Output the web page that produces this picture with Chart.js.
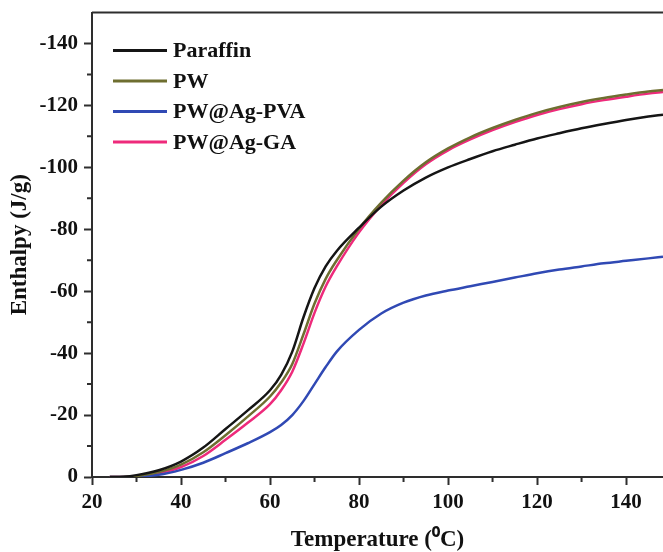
<!DOCTYPE html>
<html>
<head>
<meta charset="utf-8">
<script src="https://cdn.jsdelivr.net/npm/chart.js@4.4.1/dist/chart.umd.min.js"></script>
<style>
  html, body { margin: 0; padding: 0; background: #fff; }
  #wrap { width: 663px; height: 552px; position: relative; }
</style>
</head>
<body>
<div id="wrap"><canvas id="chart-enthalpy"></canvas></div>
<script>
const temperature = [24, 27, 30, 35, 40, 45, 50, 55, 60, 62.5, 65, 67.5, 70, 72.5, 75, 80, 85, 90, 95, 100, 105, 110, 115, 120, 125, 130, 135, 140, 145, 148.3];

const paraffin = [0, -0.1, -0.6, -2.2, -5, -9.5, -15.5, -21.5, -28, -33, -40.5, -51.5, -61, -68, -73, -80.5, -87.3, -92.5, -96.7, -100, -102.7, -105.2, -107.3, -109.3, -111, -112.6, -114, -115.3, -116.4, -117];
const pw = [0, 0, -0.3, -1.6, -4, -8, -13.5, -19.5, -26, -30.5, -36.5, -46, -56, -64, -70, -80.2, -88.6, -95.7, -101.6, -106.1, -109.7, -112.7, -115.3, -117.6, -119.5, -121.1, -122.4, -123.5, -124.5, -125];
const pwAgPva = [0, 0, -0.1, -0.7, -2.3, -4.6, -7.7, -10.9, -14.5, -16.8, -20, -24.5, -30, -35.5, -40.5, -47.5, -52.8, -56.3, -58.6, -60.2, -61.6, -63, -64.4, -65.8, -67, -68, -69, -69.8, -70.6, -71.1];
const pwAgGa = [0, 0, -0.2, -1.2, -3.2, -6.8, -12, -17.5, -23.5, -28, -34, -43, -53, -61.5, -68, -79, -87.8, -95, -101, -105.5, -109, -112, -114.6, -116.9, -118.8, -120.4, -121.7, -122.8, -123.8, -124.3];

const seriesLabels = ['Paraffin', 'PW', 'PW@Ag-PVA', 'PW@Ag-GA'];
const seriesColors = ['#151515', '#6e6e30', '#3049b4', '#ee2a7b'];
const seriesValues = [paraffin, pw, pwAgPva, pwAgGa];

const serif = '"Liberation Serif", "Times New Roman", serif';
const axisColor = '#2e2e2e';

// legend drawn inside the plot, short line + bold label per series
const insideLegend = {
    id: 'insideLegend',
    afterDraw(chart) {
        const {ctx, chartArea} = chart;
        const x0 = chartArea.left + 21;
        let y = chartArea.top + 38;
        ctx.save();
        ctx.font = 'bold 22px ' + serif;
        ctx.textBaseline = 'middle';
        ctx.fillStyle = '#111';
        chart.data.datasets.forEach(ds => {
            ctx.strokeStyle = ds.borderColor;
            ctx.lineWidth = 3;
            ctx.beginPath();
            ctx.moveTo(x0, y);
            ctx.lineTo(x0 + 54, y);
            ctx.stroke();
            ctx.fillText(ds.label, x0 + 60, y + 1);
            y += 30.5;
        });
        ctx.restore();
    }
};

// minor ticks halfway between labelled ticks, plus the top frame line
const frameAndMinorTicks = {
    id: 'frameAndMinorTicks',
    afterDraw(chart) {
        const {ctx, chartArea} = chart;
        const xs = chart.scales.x, ys = chart.scales.y;
        ctx.save();
        ctx.strokeStyle = axisColor;
        ctx.lineWidth = 2;
        ctx.beginPath();
        ctx.moveTo(chartArea.left, chartArea.top);
        ctx.lineTo(chartArea.right, chartArea.top);
        ctx.stroke();
        ctx.beginPath();
        for (let v = Math.ceil(xs.min / 10) * 10; v <= xs.max; v += 10) {
            if (v % 20 === 0) continue;
            const px = xs.getPixelForValue(v);
            ctx.moveTo(px, chartArea.bottom);
            ctx.lineTo(px, chartArea.bottom + 5);
        }
        for (let v = Math.ceil(ys.min / 10) * 10; v < ys.max; v += 10) {
            if (v % 20 === 0 || v === ys.min) continue;
            const py = ys.getPixelForValue(v);
            ctx.moveTo(chartArea.left, py);
            ctx.lineTo(chartArea.left - 5, py);
        }
        ctx.stroke();
        ctx.restore();
    }
};

const ctx = document.getElementById('chart-enthalpy');

new Chart(ctx, {
    type: 'line',
    data: {
        datasets: seriesLabels.map((label, i) => ({
            label: label,
            data: temperature.map((t, j) => ({x: t, y: seriesValues[i][j]})),
            borderColor: seriesColors[i],
            borderWidth: 2.5,
            pointRadius: 0,
            cubicInterpolationMode: 'monotone',
            fill: false
        }))
    },
    options: {
        responsive: true,
        maintainAspectRatio: false,
        animation: false,
        layout: {
            padding: {left: 0, top: 12.5, right: 0, bottom: 0}
        },
        plugins: {
            legend: {display: false},
            tooltip: {enabled: false}
        },
        scales: {
            x: {
                type: 'linear',
                min: 20,
                max: 148.3,
                afterBuildTicks: scale => {
                    scale.ticks = scale.ticks.filter(t => t.value % 20 === 0);
                },
                afterFit: scale => {
                    scale.height = 75;
                    scale.paddingLeft = 0;
                    scale.paddingRight = 0;
                },
                ticks: {
                    stepSize: 20,
                    includeBounds: false,
                    autoSkip: false,
                    maxRotation: 0,
                    padding: 5,
                    color: '#111',
                    font: {family: serif, size: 21, weight: 'bold'},
                    callback: v => String(v)
                },
                grid: {
                    drawOnChartArea: false,
                    tickLength: 8,
                    tickWidth: 2,
                    tickColor: axisColor
                },
                border: {color: axisColor, width: 2},
                title: {
                    display: true,
                    text: 'Temperature (\u2070C)',
                    color: '#111',
                    font: {family: serif, size: 23, weight: 'bold', lineHeight: 1.0},
                    padding: {top: 0, bottom: 0}
                }
            },
            y: {
                type: 'linear',
                min: -150,
                max: 0,
                reverse: true,
                afterBuildTicks: scale => {
                    scale.ticks = scale.ticks.filter(t => t.value % 20 === 0);
                },
                afterFit: scale => {
                    scale.width = 92;
                    scale.paddingTop = 0;
                    scale.paddingBottom = 0;
                },
                ticks: {
                    stepSize: 20,
                    includeBounds: false,
                    autoSkip: false,
                    padding: 6,
                    color: '#111',
                    font: {family: serif, size: 21, weight: 'bold'},
                    callback: v => String(v)
                },
                grid: {
                    drawOnChartArea: false,
                    tickLength: 8,
                    tickWidth: 2,
                    tickColor: axisColor
                },
                border: {color: axisColor, width: 2},
                title: {
                    display: true,
                    text: 'Enthalpy (J/g)',
                    color: '#111',
                    font: {family: serif, size: 23, weight: 'bold'},
                    padding: {top: 6, bottom: 4}
                }
            }
        }
    },
    plugins: [insideLegend, frameAndMinorTicks]
});
</script>
</body>
</html>
